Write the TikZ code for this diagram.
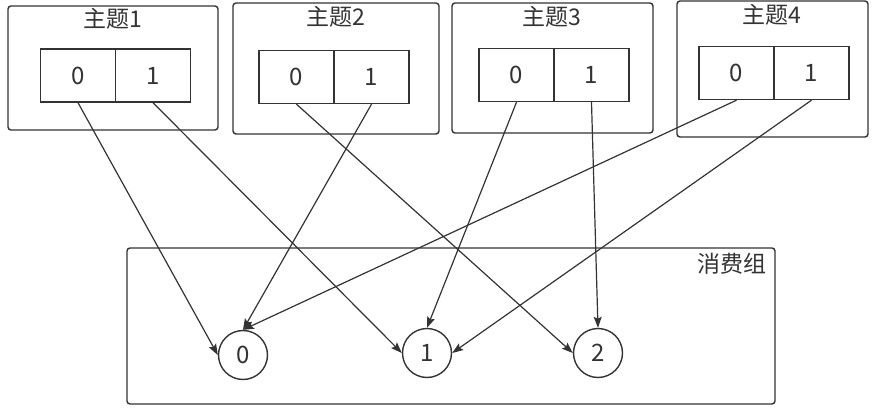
\documentclass[tikz,border=0pt]{standalone}
\usepackage{fontspec}
\setmainfont{Noto Sans CJK SC}
\usetikzlibrary{arrows.meta}
\definecolor{ink}{HTML}{333333}
\tikzset{
  box/.style={draw=ink, line width=1.4pt, rounded corners=3pt},
  cell/.style={draw=ink, line width=1.4pt, minimum width=75pt, minimum height=53pt, inner sep=0pt, font=\fontsize{24}{28}\selectfont, text=ink},
  title/.style={font=\fontsize{23}{28}\selectfont, text=ink, inner sep=0pt},
  circ/.style={draw=ink, line width=1.4pt, circle, minimum size=49pt, inner sep=0pt, font=\fontsize{24}{28}\selectfont, text=ink},
  link/.style={draw=ink, line width=1.2pt, -{Stealth[length=11pt,width=8pt,inset=2pt]}}
}
\begin{document}
\begin{tikzpicture}[x=1pt,y=-1pt]
\useasboundingbox (0,0) rectangle (879,412);
% topic boxes
\draw[box] (8,6) rectangle (218,130);
\draw[box] (233,3) rectangle (439,134);
\draw[box] (452,3) rectangle (653,133);
\draw[box] (677,1) rectangle (868,137);
\node[title] (t1) at (113,19) {主题1};
\node[title] (t2) at (336,17) {主题2};
\node[title] (t3) at (552,17) {主题3};
\node[title] (t4) at (772,15) {主题4};
% cells
\node[cell] (a0) at (78,75.5) {0};
\node[cell] (a1) at (153,75.5) {1};
\node[cell] (b0) at (296.5,77) {0};
\node[cell] (b1) at (371.5,77) {1};
\node[cell] (c0) at (516.5,75) {0};
\node[cell] (c1) at (591.5,75) {1};
\node[cell] (d0) at (736.5,73) {0};
\node[cell] (d1) at (811.5,73) {1};
% consumer group
\draw[box] (127,248) rectangle (775,404);
\node[title, anchor=east] (grp) at (767,264) {消费组};
\node[circ] (k0) at (243,355) {0};
\node[circ] (k1) at (427,353) {1};
\node[circ] (k2) at (598,353) {2};
% links
\draw[link] (a0.south) -- (k0.west);
\draw[link] (a1.south) -- (k1.west);
\draw[link] (b0.south) -- (k2.west);
\draw[link] (b1.south) -- (k0.north);
\draw[link] (c0.south) -- (k1.north);
\draw[link] (c1.south) -- (k2.north);
\draw[link] (d0.south) -- (k0.north);
\draw[link] (d1.south) -- (k1.east);
\end{tikzpicture}
\end{document}
